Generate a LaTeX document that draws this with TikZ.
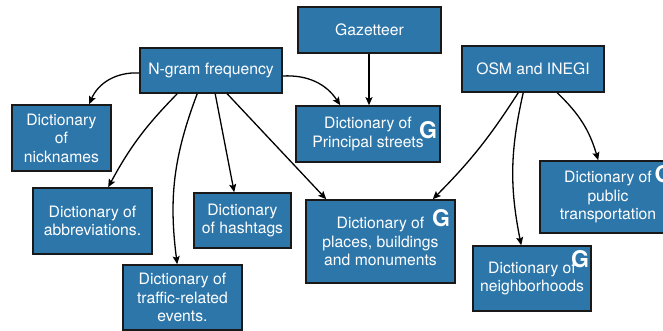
\documentclass[tikz,border=0pt]{standalone}
\usepackage{fontspec}
\setmainfont{TeX Gyre Heros}
\usetikzlibrary{arrows.meta}
\definecolor{boxblue}{RGB}{45,118,170}
\definecolor{boxline}{RGB}{25,25,25}
\begin{document}
\begin{tikzpicture}[x=1pt,y=-1pt,
  dbox/.style={draw=boxline,line width=1.6pt,fill=boxblue,text=white,
    align=center,inner sep=0pt,font=\fontsize{15.7}{18.5}\selectfont},
  gmark/.style={text=white,inner sep=0pt,font=\fontsize{23}{23}\selectfont\bfseries},
  conn/.style={draw=black,line width=1.3pt,-{Stealth[length=8pt,width=7pt,inset=1.5pt]}}]
\useasboundingbox (0,0) rectangle (663,331);
\node[dbox,minimum width=142pt,minimum height=45pt] (ngram) at (211,70.5) {N-gram frequency};
\node[dbox,minimum width=143pt,minimum height=46pt] (gaz) at (369.5,30) {Gazetteer};
\node[dbox,minimum width=142pt,minimum height=46pt] (osm) at (533,69) {OSM and INEGI};
\node[dbox,minimum width=99pt,minimum height=66pt] (nick) at (61.5,138) {Dictionary\\of\\nicknames};
\node[dbox,minimum width=144pt,minimum height=56pt] (princ) at (368,134) {Dictionary of\\Principal streets};
\node[dbox,minimum width=119pt,minimum height=66pt] (abbr) at (92.5,221) {Dictionary of\\abbreviations.};
\node[dbox,minimum width=97pt,minimum height=55pt] (hash) at (242.5,220.5) {Dictionary\\of hashtags};
\node[dbox,minimum width=119pt,minimum height=65pt] (traffic) at (182.5,297.5) {Dictionary of\\traffic-related\\events.};
\node[dbox,minimum width=149pt,minimum height=83pt] (places) at (380.5,241.5) {Dictionary of\\places, buildings\\and monuments};
\node[dbox,minimum width=118pt,minimum height=65pt] (neigh) at (532,278.5) {Dictionary of\\neighborhoods};
\node[dbox,minimum width=136pt,minimum height=72pt] (public) at (608,197) {Dictionary of\\public\\transportation};
\node[gmark] (g1) at (428,130) {G};
\node[gmark] (g2) at (441,218) {G};
\node[gmark] (g3) at (580,259) {G};
\node[gmark] (g4) at (663.5,174) {G};
% connectors
\draw[conn] ([yshift=-2.5pt]ngram.west) to[bend right=35] ([xshift=78pt]nick.north west);
\draw[conn] ([xshift=38pt]ngram.south west) to[bend right=8] ([xshift=76pt]abbr.north west);
\draw[conn] ([xshift=58pt]ngram.south west) to[bend right=14] ([xshift=55pt]traffic.north west);
\draw[conn] ([xshift=76pt]ngram.south west) -- ([xshift=41pt]hash.north west);
\draw[conn] ([xshift=88pt]ngram.south west) -- ([xshift=21pt]places.north west);
\draw[conn] ([yshift=-5.5pt]ngram.east) to[bend left=30] ([xshift=45pt]princ.north west);
\draw[conn] ([xshift=-0.5pt]gaz.south) -- ([xshift=-0.5pt]gaz.south |- princ.north);
\draw[conn] ([xshift=57pt]osm.south west) to[bend left=6] ([xshift=-23pt]places.north east);
\draw[conn] ([xshift=62pt]osm.south west) to[bend right=12] ([xshift=49pt]neigh.north west);
\draw[conn] ([xshift=96pt]osm.south west) to[bend left=15] ([xshift=59pt]public.north west);
\end{tikzpicture}
\end{document}
